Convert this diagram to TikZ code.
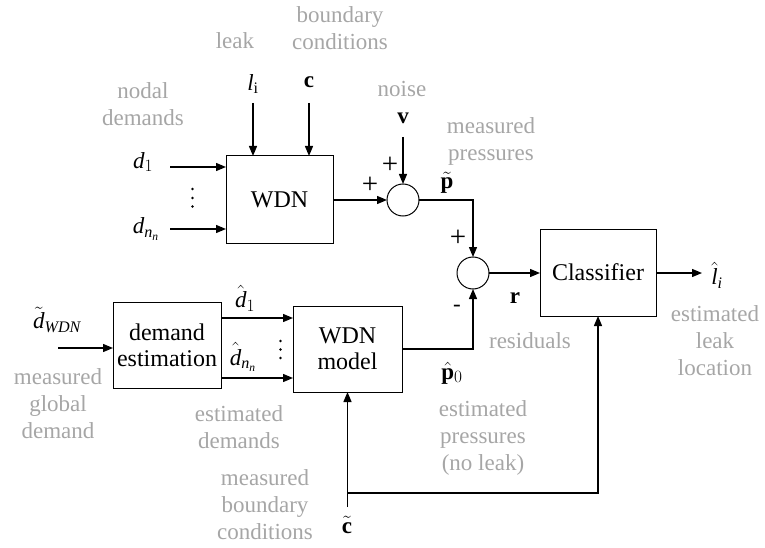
\documentclass[tikz,border=0pt]{standalone}
\usepackage{fontspec}
\setmainfont{Liberation Serif}
\usetikzlibrary{arrows.meta}
\definecolor{lblgray}{RGB}{166,166,166}
\begin{document}
\begin{tikzpicture}[x=1pt,y=-1pt,
  every node/.style={inner sep=0pt, outer sep=0pt, font=\fontsize{23}{27}\selectfont},
  blk/.style={draw, line width=1pt, align=center, font=\fontsize{24}{29}\selectfont},
  sumc/.style={draw, line width=1pt, circle, minimum size=32pt},
  arr/.style={line width=1.3pt, -{Triangle[length=10pt,width=8pt]}},
  gl/.style={text=lblgray, align=center},
  sym/.style={text=black},
  sgn/.style={text=black, font=\fontsize{29}{30}\selectfont},
  dotc/.style={fill=black}]
\useasboundingbox (0,0) rectangle (765,548);
% blocks
\node[blk, minimum width=107pt, minimum height=87pt] (wdn) at (279.5,199.5) {WDN};
\node[blk, minimum width=108pt, minimum height=86pt] (dem) at (167,345) {demand\\[-3pt]estimation};
\node[blk, minimum width=109pt, minimum height=86pt] (mod) at (347.5,349) {WDN\\[-3pt]model};
\node[blk, minimum width=116pt, minimum height=87pt] (cls) at (598,272.5) {Classifier};
\node[sumc] (s1) at (403,200) {};
\node[sumc] (s2) at (473,273) {};
% input / free-end coordinates
\coordinate (lk) at (253,103);
\coordinate (cc) at (309,103);
\coordinate (d1s) at (170,167);
\coordinate (dns) at (170,229);
\coordinate (vs) at (403,137);
\coordinate (lout) at (702,273);
\coordinate (dws) at (58,348);
\coordinate (ct) at (347.5,507);
\coordinate (jn) at (347.5,493);
\coordinate (dh1s) at (221,318);
\coordinate (dhns) at (221,378);
% connectors
\draw[arr] (lk) -- (lk |- wdn.north);
\draw[arr] (cc) -- (cc |- wdn.north);
\draw[arr] (d1s) -- (d1s -| wdn.west);
\draw[arr] (dns) -- (dns -| wdn.west);
\draw[arr] (wdn.east |- s1.west) -- (s1.west);
\draw[arr] (vs) -- (s1.north);
\draw[arr] (s1.east) -| (s2.north);
\draw[arr] (s2.east) -- (s2.east -| cls.west);
\draw[arr] (cls.east |- lout) -- (lout);
\draw[arr] (dws) -- (dws -| dem.west);
\draw[arr] (dh1s) -- (dh1s -| mod.west);
\draw[arr] (dhns) -- (dhns -| mod.west);
\draw[arr] (mod.east) -| (s2.south);
\draw[arr] (ct) -- (mod.south);
\draw[arr] (jn) -| (cls.south);
% vertical dots
\fill[dotc] (192.5,189) circle (1.3) (192.5,198) circle (1.3) (192.5,206.5) circle (1.3);
\fill[dotc] (280.5,341) circle (1.3) (280.5,349.5) circle (1.3) (280.5,358) circle (1.3);
% symbols
\node[sym] (lisym) at (253,84) {$\mathit{l}_{\mathrm{i}}$};
\node[sym] (csym) at (309,82) {$\mathbf{c}$};
\node[sym] (vsym) at (403,118) {$\mathbf{v}$};
\node[sym] (d1sym) at (143,162) {$\mathit{d}_{1}$};
\node[sym] (dnsym) at (146,229) {$\mathit{d}_{\mathit{n}_{\mathit{n}}}$};
\node[sym] (ptsym) at (447,183) {$\tilde{\mathbf{p}}$};
\node[sgn] (pl1) at (370,185) {+};
\node[sgn] (pl2) at (390,165) {+};
\node[sgn] (pl3) at (458,238) {+};
\node[sym] (mn) at (457,308) {-};
\node[sym] (rsym) at (515,298) {$\mathbf{r}$};
\node[sym] (p0sym) at (452,373) {$\hat{\mathbf{p}}_{0}$};
\node[sym] (lhat) at (717,275) {$\hat{\mathit{l}}_{\mathit{i}}$};
\node[sym] (dwsym) at (57,320) {$\tilde{\mathit{d}}_{\mathit{WDN}}$};
\node[sym] (dh1) at (245,298) {$\hat{\mathit{d}}_{1}$};
\node[sym] (dhn) at (243,357) {$\hat{\mathit{d}}_{\mathit{n}_{\mathit{n}}}$};
\node[sym] (ctsym) at (347,525) {$\tilde{\mathbf{c}}$};
% grey labels
\node[gl] (tleak) at (235,41) {leak};
\node[gl] (tbc) at (340,28) {boundary\\conditions};
\node[gl] (tnd) at (143,104) {nodal\\demands};
\node[gl] (tnoise) at (402,89) {noise};
\node[gl] (tmp) at (491,141) {measured\\pressures};
\node[gl] (tres) at (530,341) {residuals};
\node[gl] (tell) at (715,341) {estimated\\leak\\location};
\node[gl] (tmgd) at (58,404) {measured\\global\\demand};
\node[gl] (ted) at (239,427) {estimated\\demands};
\node[gl] (tep) at (483,438) {estimated\\pressures\\(no leak)};
\node[gl] (tmbc) at (265,505) {measured\\boundary\\conditions};
\end{tikzpicture}
\end{document}
